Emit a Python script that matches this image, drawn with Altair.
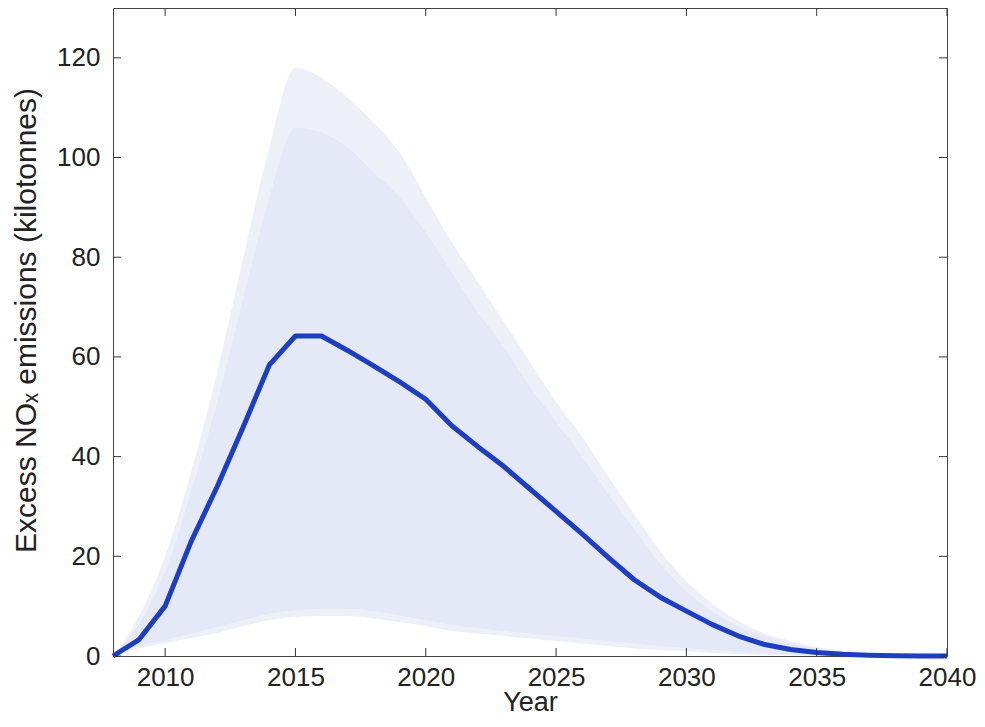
import altair as alt
import pandas as pd

years = list(range(2008, 2041))
median_kt = [0, 3.3, 10, 23, 34, 46, 58.4, 64.2, 64.2, 61.3, 58.2, 55, 51.5, 46.2, 42, 38,
             33.5, 29, 24.5, 19.8, 15.3, 11.8, 9, 6.3, 4, 2.3, 1.3, 0.7, 0.35, 0.15, 0.05, 0, 0]
upper_kt = [0, 8, 20, 37, 57, 80, 102, 118, 116, 112, 107, 101, 92, 83, 75, 67,
            59, 51, 44, 36, 28.5, 21, 15, 10.5, 7, 4.5, 3, 1.8, 1, 0.4, 0, 0, 0]
lower_kt = [0, 1.5, 2.6, 3.6, 4.6, 6, 7.2, 7.8, 8, 8, 7.5, 6.8, 6, 5, 4.5, 4,
            3.5, 3, 2.5, 2, 1.5, 1.2, 1, 0.6, 0.4, 0.2, 0.1, 0, 0, 0, 0, 0, 0]
core_upper_kt = [0, 6.5, 17, 33, 51, 72, 92, 106, 105, 102, 97, 92, 85, 77, 69, 62,
                 54, 47, 40, 32.5, 25.5, 18.5, 13, 9, 6, 4, 2.6, 1.5, 0.7, 0.25, 0, 0, 0]
core_lower_kt = [0, 2, 3.2, 4.5, 5.8, 7.2, 8.5, 9.2, 9.5, 9.5, 9, 8.2, 7.2, 6.2, 5.6, 5,
                 4.5, 4, 3.5, 3, 2.5, 2, 1.6, 1.2, 0.8, 0.5, 0.25, 0.1, 0, 0, 0, 0, 0]

x_ticks = [2010, 2015, 2020, 2025, 2030, 2035, 2040]
y_ticks = [0, 20, 40, 60, 80, 100, 120]

df = pd.DataFrame({
    "year": years, "kt": median_kt, "upper": upper_kt, "lower": lower_kt,
    "cu": core_upper_kt, "cl": core_lower_kt,
})
xt = pd.DataFrame({"year": x_ticks})
yt = pd.DataFrame({"kt": y_ticks})

W, H = 834, 648
FONT = "Liberation Sans"

xscale = alt.Scale(domain=[2008, 2040], nice=False, zero=False)
yscale = alt.Scale(domain=[0, 130], nice=False, zero=True)

xaxis = alt.Axis(values=x_ticks, format="d", title="Year", domain=False, ticks=False,
                 grid=False, labelFontSize=26, labelFont=FONT, labelColor="#222",
                 labelPadding=8, labelFlush=False, labelOverlap=False,
                 titleFont=FONT, titleFontSize=27, titleFontWeight="normal",
                 titleColor="#222", titleY=54, titleBaseline="alphabetic")
yaxis = alt.Axis(values=y_ticks, format="d", title="Excess NOₓ emissions (kilotonnes)",
                 domain=False, ticks=False, grid=False, labelFontSize=26, labelFont=FONT,
                 labelColor="#222", labelPadding=13, labelFlush=False, labelOverlap=False,
                 titleFont=FONT, titleFontSize=30, titleFontWeight="normal",
                 titleColor="#222", titleAngle=270, titleX=-78, titleY=312,
                 titleBaseline="alphabetic", titleAlign="center")

X = alt.X("year:Q", scale=xscale, axis=xaxis)

outer = alt.Chart(df).mark_area(color="#eef0f9", interpolate="monotone").encode(
    x=X, y=alt.Y("lower:Q", scale=yscale, axis=yaxis), y2="upper:Q")
core = alt.Chart(df).mark_area(color="#e5e8f6", interpolate="monotone").encode(
    x=X, y=alt.Y("cl:Q", scale=yscale, axis=yaxis), y2="cu:Q")
line = alt.Chart(df).mark_line(color="#1e3ec0", strokeWidth=5, strokeJoin="round").encode(
    x=X, y=alt.Y("kt:Q", scale=yscale, axis=yaxis))

tick_color = "#333"
bt = alt.Chart(xt).mark_rule(color=tick_color, strokeWidth=1).encode(
    x=X, y=alt.value(H), y2=alt.value(H - 8))
tt = alt.Chart(xt).mark_rule(color=tick_color, strokeWidth=1).encode(
    x=X, y=alt.value(0), y2=alt.value(8))
lt = alt.Chart(yt).mark_rule(color=tick_color, strokeWidth=1).encode(
    y=alt.Y("kt:Q", scale=yscale, axis=yaxis), x=alt.value(0), x2=alt.value(8))
rt = alt.Chart(yt).mark_rule(color=tick_color, strokeWidth=1).encode(
    y=alt.Y("kt:Q", scale=yscale, axis=yaxis), x=alt.value(W), x2=alt.value(W - 8))

chart = alt.layer(outer, core, line, bt, tt, lt, rt).properties(
    width=W, height=H,
    autosize=alt.AutoSizeParams(type="none"),
    padding={"left": 105, "top": 0, "right": 29, "bottom": 62},
    background="white",
).configure_view(stroke="#444", strokeWidth=1)

chart.save("out.html", embed_options={"renderer": "svg", "actions": False})
